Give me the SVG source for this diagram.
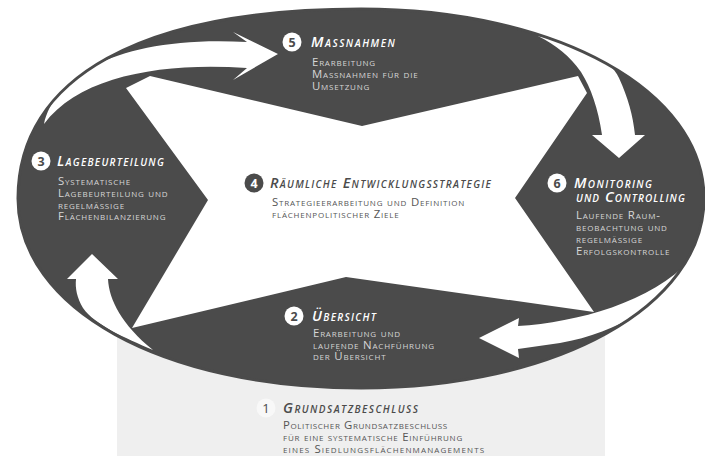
<svg xmlns="http://www.w3.org/2000/svg" width="705" height="456" viewBox="0 0 705 456">
<style>
.dark{fill:#4b4b4b}
.t{font-family:"Open Sans","Liberation Sans",sans-serif;font-style:italic;font-weight:600;font-variant:small-caps;font-size:14.5px;letter-spacing:1.2px;fill:#ffffff}
.d{font-family:"Open Sans","Liberation Sans",sans-serif;font-variant:small-caps;font-size:11.4px;letter-spacing:0.8px;fill:#d6d6d6}
.tk{fill:#4b4b4b}
.dk{fill:#555555}
.num{font-family:"Open Sans","Liberation Sans",sans-serif;font-weight:700;font-size:12.5px;text-anchor:middle;fill:#4b4b4b}
.arrow{fill:#ffffff}
</style>
<defs>
<clipPath id="ell">
<path d="M 361,9 C 556.5,9 704,90.5 704,198.5 C 704,306.5 556.5,388 361,388 C 162,388 18,308.4 18,198.5 C 18,77.2 141.5,9 361,9 Z"/>
</clipPath>
</defs>
<rect x="0" y="0" width="705" height="456" fill="#ffffff"/>
<rect x="117" y="300" width="488" height="156" fill="#efefef"/>
<g id="background">
<path class="dark" d="M 361,9 C 556.5,9 704,90.5 704,198.5 C 704,306.5 556.5,388 361,388 C 162,388 18,308.4 18,198.5 C 18,77.2 141.5,9 361,9 Z"/>
<polygon fill="#ffffff" points="126,88 150,76 362,126 578,76 587,93 515,198 594,312 346,277 132,328 208,200"/>
</g>
<g id="connectors" clip-path="url(#ell)">
<path class="arrow" d="M 44,124 C 55,75 120,35 247,42 L 233,32 L 278,54 L 233,80 L 247,68 C 165,62 80,75 44,124 Z"/>
<path class="arrow" d="M 538,36 C 580,44 610,58 619,78 C 628,98 633,115 635,135 L 645,135 L 619,158 L 592,135 L 602,135 C 598,108 591,88 581,72 C 570,56 556,45 538,36 Z"/>
<path class="arrow" d="M 697,252 C 675,295 625,332 560,343 L 518,349 L 519,358 L 479,338 L 519,318 L 518,326 C 580,322 660,300 697,252 Z"/>
<path class="arrow" d="M 153,350 C 125,338 95,325 83,308 C 77,298 75,288 76,279 L 67,279 L 92,254 L 118,279 L 108,279 C 109,300 122,325 153,350 Z"/>
</g>
<path fill="none" stroke="#4b4b4b" stroke-width="3" d="M 361,9 C 556.5,9 704,90.5 704,198.5 C 704,306.5 556.5,388 361,388 C 162,388 18,308.4 18,198.5 C 18,77.2 141.5,9 361,9 Z"/>
<g id="node5">
<circle cx="292" cy="42" r="9.5" fill="#ffffff"/>
<text class="num" x="292" y="46.5">5</text>
<text class="t" x="311" y="47" textLength="85">Massnahmen</text>
<text class="d" x="312" y="66">Erarbeitung</text>
<text class="d" x="312" y="78">Massnahmen für die</text>
<text class="d" x="312" y="90">Umsetzung</text>
</g>
<g id="node3">
<circle cx="41" cy="161" r="9.5" fill="#ffffff"/>
<text class="num" x="41" y="165.5">3</text>
<text class="t" x="57" y="166" textLength="108">Lagebeurteilung</text>
<text class="d" x="58" y="185">Systematische</text>
<text class="d" x="58" y="197">Lagebeurteilung und</text>
<text class="d" x="58" y="209">regelmässige</text>
<text class="d" x="58" y="220">Flächenbilanzierung</text>
</g>
<g id="node4">
<circle cx="254" cy="183" r="9.5" fill="#4b4b4b"/>
<text class="num" x="254" y="187.5" style="fill:#ffffff">4</text>
<text class="t tk" x="270" y="188" textLength="222">Räumliche Entwicklungsstrategie</text>
<text class="d dk" x="272" y="206">Strategieerarbeitung und Definition</text>
<text class="d dk" x="272" y="218">flächenpolitischer Ziele</text>
</g>
<g id="node6">
<circle cx="557" cy="183" r="9.5" fill="#ffffff"/>
<text class="num" x="557" y="187.5">6</text>
<text class="t" x="574" y="188" textLength="79">Monitoring</text>
<text class="t" x="576" y="202" textLength="110">und Controlling</text>
<text class="d" x="576" y="219">Laufende Raum-</text>
<text class="d" x="576" y="231">beobachtung und</text>
<text class="d" x="576" y="243">regelmässige</text>
<text class="d" x="576" y="255">Erfolgskontrolle</text>
</g>
<g id="node2">
<circle cx="294" cy="316" r="9.5" fill="#ffffff"/>
<text class="num" x="294" y="320.5">2</text>
<text class="t" x="312" y="321" textLength="65">Übersicht</text>
<text class="d" x="313" y="337">Erarbeitung und</text>
<text class="d" x="313" y="349">laufende Nachführung</text>
<text class="d" x="313" y="360">der Übersicht</text>
</g>
<g id="node1">
<circle cx="266" cy="408" r="9.5" fill="#f8f8f8"/>
<text class="num" x="266" y="413" style="font-weight:400;font-size:13px">1</text>
<text class="t tk" x="283" y="413" textLength="136">Grundsatzbeschluss</text>
<text class="d dk" x="283" y="429" textLength="165">Politischer Grundsatzbeschluss</text>
<text class="d dk" x="283" y="441" textLength="180">für eine systematische Einführung</text>
<text class="d dk" x="283" y="453" textLength="202">eines Siedlungsflächenmanagements</text>
</g>
</svg>
